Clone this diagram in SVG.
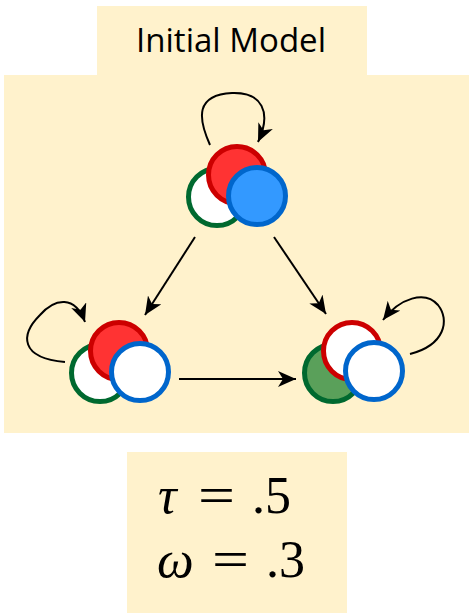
<svg xmlns="http://www.w3.org/2000/svg" width="469" height="613" viewBox="0 0 469 613">
<defs>
<style>
.bg{fill:#FFF2CC}
.g{stroke:#00692F;stroke-width:5}
.r{stroke:#CC0000;stroke-width:5}
.b{stroke:#0066CC;stroke-width:5}
.conn path{fill:none;stroke:#000;stroke-width:2;marker-end:url(#ah)}
.title{font-family:"Open Sans","Liberation Sans",sans-serif;font-size:32px;fill:#000}
.math{font-family:"Liberation Serif","DejaVu Serif",serif;font-size:52px;fill:#000}
.it{font-style:italic}
</style>
<marker id="ah" viewBox="0 0 18 16" refX="18" refY="8" markerWidth="18" markerHeight="16" markerUnits="userSpaceOnUse" orient="auto">
<path d="M0,0 L18,8 L0,16 L5,8 z" fill="#000"/>
</marker>
</defs>
<rect class="bg" x="97" y="6" width="270" height="70"/>
<rect class="bg" x="4" y="75" width="465" height="358"/>
<rect class="bg" x="127" y="452" width="220" height="161"/>
<text class="title" x="231" y="52" text-anchor="middle" textLength="190" lengthAdjust="spacingAndGlyphs">Initial Model</text>
<g id="connectors" class="conn">
<path d="M210,145 C198,118 195,95 232,93 C262,92 272,112 258,142"/>
<path d="M195,237 L145,315"/>
<path d="M274,237 L326,314"/>
<path d="M179,379 L296,379"/>
<path d="M65,362 C20,358 20,335 40,315 C55,298 75,295 85,322"/>
<path d="M410,354 C445,345 450,320 438,305 C425,290 400,298 383,320"/>
</g>
<g id="node-top">
<circle class="g" cx="217" cy="197" r="28.5" fill="#FFFFFF"/>
<circle class="r" cx="237" cy="175" r="28.5" fill="#FF3333"/>
<circle class="b" cx="257" cy="196" r="28.5" fill="#3399FF"/>
</g>
<g id="node-left">
<circle class="g" cx="100" cy="373" r="28.5" fill="#FFFFFF"/>
<circle class="r" cx="119" cy="351" r="28.5" fill="#FF3333"/>
<circle class="b" cx="140" cy="372" r="28.5" fill="#FFFFFF"/>
</g>
<g id="node-right">
<circle class="g" cx="333" cy="373" r="28.5" fill="#5AA05A"/>
<circle class="r" cx="352" cy="351" r="28.5" fill="#FFFFFF"/>
<circle class="b" cx="374" cy="371" r="28.5" fill="#FFFFFF"/>
</g>
<g id="params">
<text class="math it" x="158" y="513">τ</text>
<text class="math" x="198" y="513" textLength="37" lengthAdjust="spacingAndGlyphs">=</text>
<text class="math" x="252" y="513">.5</text>
<text class="math it" x="157" y="577">ω</text>
<text class="math" x="212" y="577" textLength="37" lengthAdjust="spacingAndGlyphs">=</text>
<text class="math" x="266" y="577">.3</text>
</g>
</svg>
